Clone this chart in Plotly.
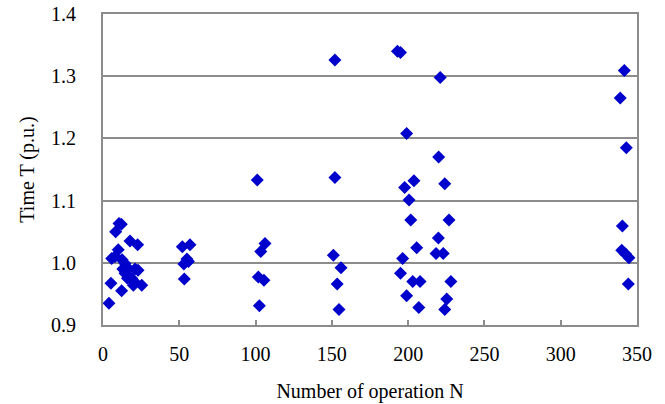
import plotly.graph_objects as go

# Number of operations (x) and time in p.u. (y)
ops_n = [3.9, 5.2, 5.7, 7.9, 8.3, 10.5, 12.0, 10.0, 12.2, 12.5, 13.0, 14.4, 14.4, 16.0, 16.6,
         17.7, 18.8, 19.9, 20.5, 21.0, 22.7, 23.0, 25.4,
         52.0, 57.0, 55.0, 53.0, 56.0, 53.3,
         101.1, 106.2, 103.4, 101.8, 105.5, 102.5,
         152.0, 152.0, 151.0, 156.0, 153.5, 154.7,
         193.0, 195.0, 221.0, 199.0, 220.0, 203.8, 197.7, 224.0, 200.6, 201.7, 226.8, 219.8,
         205.6, 196.4, 218.3, 223.0, 195.0, 203.0, 207.8, 228.0, 199.0, 207.0, 225.3, 224.0,
         341.7, 339.0, 343.0, 340.4, 340.0, 342.5, 344.7, 344.3]
time_t = [0.935, 0.967, 1.007, 1.010, 1.050, 1.063, 1.062, 1.021, 0.955, 1.005, 0.990, 0.999, 0.983, 0.975, 0.991,
          1.035, 0.975, 0.964, 0.970, 0.990, 1.029, 0.988, 0.964,
          1.026, 1.029, 1.006, 0.998, 1.002, 0.974,
          1.133, 1.031, 1.018, 0.977, 0.972, 0.931,
          1.326, 1.137, 1.012, 0.992, 0.966, 0.925,
          1.340, 1.338, 1.298, 1.208, 1.170, 1.132, 1.121, 1.127, 1.101, 1.069, 1.069, 1.040,
          1.024, 1.007, 1.015, 1.015, 0.983, 0.970, 0.970, 0.970, 0.947, 0.928, 0.942, 0.925,
          1.309, 1.265, 1.185, 1.059, 1.020, 1.014, 1.008, 0.966]

x_ticks = [0, 50, 100, 150, 200, 250, 300, 350]
y_ticks = [0.9, 1.0, 1.1, 1.2, 1.3, 1.4]
y_tick_text = ["0.9", "1.0", "1.1", "1.2", "1.3", "1.4"]

fig = go.Figure()
fig.add_trace(go.Scatter(
    x=ops_n, y=time_t, mode="markers",
    marker=dict(symbol="diamond", size=10, color="#0000CC", line=dict(width=0)),
    showlegend=False,
))

font = dict(family="Liberation Serif", size=20, color="#000000")

fig.update_layout(
    width=665, height=404,
    margin=dict(l=103, r=28, t=14, b=79, autoexpand=False),
    paper_bgcolor="white", plot_bgcolor="white",
    font=font,
)
fig.update_xaxes(
    range=[0, 350], tickvals=x_ticks, ticks="inside", ticklen=5, tickwidth=2, tickcolor="#8c8c8c",
    showgrid=False, zeroline=False, showline=True, linecolor="#8c8c8c", linewidth=2, mirror=True,
    title=dict(text="Number of operation N", standoff=20, font=font),
    ticklabelstandoff=10, automargin=False, tickfont=font,
)
fig.update_yaxes(
    range=[0.9, 1.4], tickvals=y_ticks, ticktext=y_tick_text, ticks="",
    showgrid=True, gridcolor="#8c8c8c", gridwidth=2, zeroline=False,
    showline=True, linecolor="#8c8c8c", linewidth=2, mirror=True,
    title=dict(text="Time T (p.u.)", standoff=11, font=font),
    ticklabelstandoff=21, automargin=False, tickfont=font, ticklabeloverflow="allow",
)

# remove the default 8px page margin so the figure fills the window exactly
fig.write_html("out.html", config={"displayModeBar": False},
               post_script="document.body.style.margin='0';")
